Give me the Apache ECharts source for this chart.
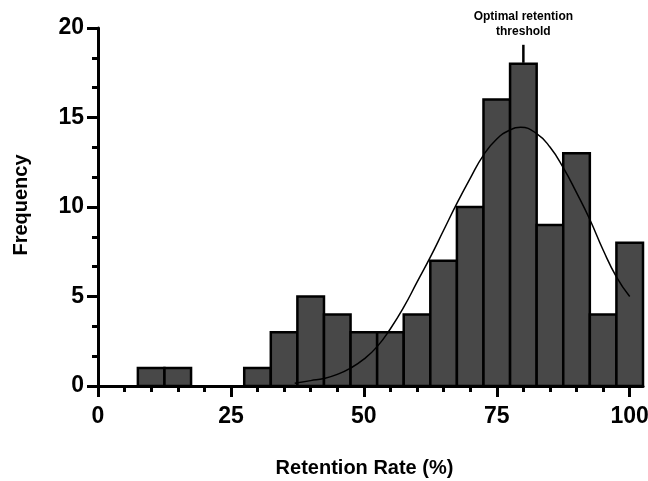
<!DOCTYPE html>
<html>
<head>
<meta charset="utf-8">
<script src="https://cdn.jsdelivr.net/npm/echarts@6/dist/echarts.min.js"></script>
<style>html,body{margin:0;padding:0;background:#fff}#c{width:648px;height:481px}</style>
</head>
<body>
<div id="c"></div>
<script>
// Histogram bin centres (Retention Rate %) and counts
const binCenters = [10, 15, 20, 25, 30, 35, 40, 45, 50, 55, 60, 65, 70, 75, 80, 85, 90, 95, 100];
const binCounts  = [1, 1, 0, 0, 1, 3, 5, 4, 3, 3, 4, 7, 10, 16, 18, 9, 13, 4, 8];
const binWidth = 5;
// Fitted curve
const curveX = [37, 40, 42.5, 45, 47.5, 50, 52.5, 55, 57.5, 60, 62.5, 65, 67.5, 70, 72.5, 75, 77.5, 79.5, 82.5, 85, 87.5, 90, 92.5, 95, 97.5, 100];
const curveY = [0.15, 0.3, 0.42, 0.65, 1.0, 1.5, 2.2, 3.2, 4.4, 5.8, 7.2, 8.7, 10.2, 11.6, 12.9, 13.8, 14.3, 14.45, 14.1, 13.35, 12.2, 10.8, 9.3, 7.6, 6.1, 5.0];
// Tick values
const xMajorTicks = [0, 25, 50, 75, 100];
const xMinorTicks = [5, 10, 15, 20, 30, 35, 40, 45, 55, 60, 65, 70, 80, 85, 90, 95];
const yTicks = [0, 5, 10, 15, 20];
// Annotation
const annotationX = 80;
const annotationY = 18;
const annotationText = 'Optimal retention\nthreshold';

const font = 'Liberation Sans, Arial, sans-serif';
const chart = echarts.init(document.getElementById('c'));

const barData = binCenters.map((c, i) => [c, binCounts[i]]);
const curveData = curveX.map((x, i) => [x, curveY[i]]);

chart.setOption({
  animation: false,
  grid: { left: 98, right: 5, top: 28, bottom: 95, containLabel: false, outerBoundsMode: 'none' },
  xAxis: [{
    type: 'value', min: 0, max: 102.5,
    name: 'Retention Rate (%)', nameLocation: 'middle', nameGap: 72,
    nameTextStyle: { fontFamily: font, fontWeight: 'bold', fontSize: 20, color: '#000', padding: [0, 12, 0, 0] },
    axisLine: { show: true, lineStyle: { color: '#000', width: 3 } },
    axisTick: { show: true, length: 11, customValues: xMajorTicks, lineStyle: { color: '#000', width: 3 } },
    axisLabel: { customValues: xMajorTicks, margin: 19, fontFamily: font, fontWeight: 'bold', fontSize: 23, color: '#000' },
    splitLine: { show: false }
  }, {
    type: 'value', min: 0, max: 102.5, position: 'bottom',
    axisLine: { show: false },
    axisTick: { show: true, length: 6, customValues: xMinorTicks, lineStyle: { color: '#000', width: 3 } },
    axisLabel: { show: false },
    splitLine: { show: false }
  }],
  yAxis: {
    type: 'value', min: 0, max: 20, interval: 5,
    name: 'Frequency', nameLocation: 'middle', nameGap: 67, nameRotate: 90,
    nameTextStyle: { fontFamily: font, fontWeight: 'bold', fontSize: 20, color: '#000', padding: [0, 0, 0, 4] },
    axisLine: { show: true, lineStyle: { color: '#000', width: 3 } },
    axisTick: { show: true, length: 11, customValues: yTicks, lineStyle: { color: '#000', width: 3 } },
    minorTick: { show: true, splitNumber: 3, length: 6, lineStyle: { color: '#000', width: 3 } },
    axisLabel: { margin: 14, fontFamily: font, fontWeight: 'bold', fontSize: 23, color: '#000' },
    splitLine: { show: false }, minorSplitLine: { show: false }
  },
  series: [{
    type: 'custom',
    data: barData,
    z: 2,
    renderItem: function (params, api) {
      const x = api.value(0), v = api.value(1);
      if (v <= 0) return null;
      const p1 = api.coord([x - binWidth / 2, v]);
      const p2 = api.coord([x + binWidth / 2, 0]);
      return {
        type: 'rect',
        shape: { x: p1[0], y: p1[1], width: p2[0] - p1[0], height: p2[1] - p1[1] },
        style: { fill: '#484848', stroke: '#000', lineWidth: 2.5 }
      };
    }
  }, {
    type: 'line',
    data: curveData,
    smooth: true,
    showSymbol: false,
    z: 3,
    lineStyle: { color: '#000', width: 1.5 }
  }, {
    type: 'custom',
    data: [[annotationX, annotationY]],
    clip: false,
    z: 4,
    renderItem: function (params, api) {
      const p = api.coord([api.value(0), api.value(1)]);
      const top = p[1] - 19;
      return {
        type: 'group',
        children: [{
          type: 'line',
          shape: { x1: p[0], y1: p[1] - 1, x2: p[0], y2: top },
          style: { stroke: '#000', lineWidth: 2.5 }
        }, {
          type: 'text',
          style: {
            text: annotationText, x: p[0], y: top - 6,
            align: 'center', verticalAlign: 'bottom',
            fontFamily: font, fontWeight: 'bold', fontSize: 12, lineHeight: 15, fill: '#000'
          }
        }]
      };
    }
  }]
});
</script>
</body>
</html>
